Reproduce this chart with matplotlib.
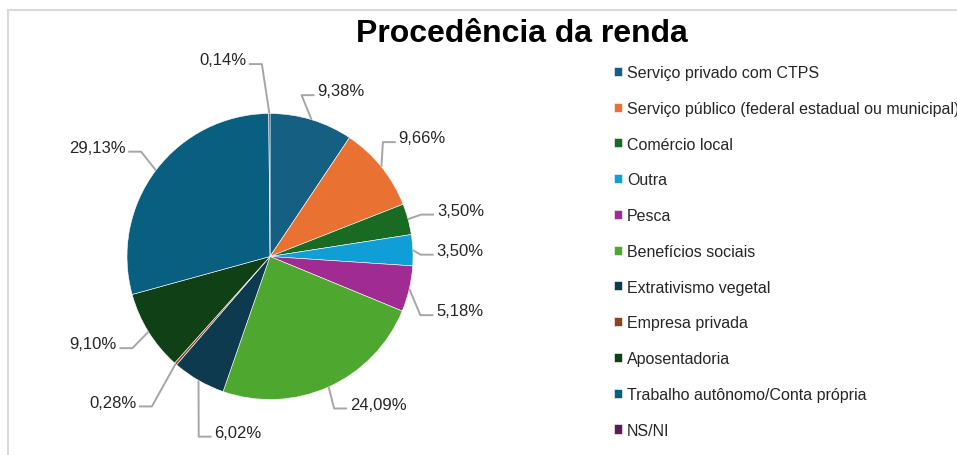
import numpy as np
import matplotlib
matplotlib.use("Agg")
import matplotlib.pyplot as plt
from matplotlib.lines import Line2D

plt.rcParams['font.family'] = ['Liberation Sans', 'DejaVu Sans']

# data
categories = ['Serviço privado com CTPS',
              'Serviço público (federal estadual ou municipal)',
              'Comércio local',
              'Outra',
              'Pesca',
              'Benefícios sociais',
              'Extrativismo vegetal',
              'Empresa privada',
              'Aposentadoria',
              'Trabalho autônomo/Conta própria',
              'NS/NI']
values = [9.38, 9.66, 3.50, 3.50, 5.18, 24.09, 6.02, 0.28, 9.10, 29.13, 0.14]
colors = ['#156082', '#E97132', '#196B24', '#0F9ED5', '#A02B93', '#4EA72E',
          '#0D3A4E', '#8C441E', '#0F4016', '#095F80', '#601A58']

# label placement (angle shift in degrees, radius as fraction of pie radius)
lab_shift = [6.3, 0.9, 1.5, 0.7, 2.9, -12.0, -19.7, 5.9, 5.5, -4.8, -13.3]
lab_rad = [1.26, 1.35, 1.37, 1.33, 1.38, 1.28, 1.25, 1.50, 1.38, 1.43, 1.415]

W, H = 957, 456
R = 143.0
cx, cy = 270.0, 257.5

fig = plt.figure(figsize=(W / 100, H / 100), dpi=100)
ax = fig.add_axes([0, 0, 1, 1])

wedges, _ = ax.pie(values, colors=colors, startangle=90, counterclock=False,
                   radius=1.0, wedgeprops=dict(edgecolor='white', linewidth=0.4))
ax.set_aspect('auto')
ax.set_xlim(-cx / R, (W - cx) / R)
ax.set_ylim(-(H - cy) / R, cy / R)
ax.axis('off')

total = sum(values)
cum = np.cumsum([0] + values[:-1])
texts = []
anchors = []
for i, v in enumerate(values):
    mid = (cum[i] + v / 2) / total * 360.0  # clockwise from top
    a0 = np.deg2rad(mid)
    anchors.append((np.sin(a0), np.cos(a0)))
    a1 = np.deg2rad(mid + lab_shift[i])
    tx, ty = lab_rad[i] * np.sin(a1), lab_rad[i] * np.cos(a1)
    lbl = f'{v:.2f}'.replace('.', ',') + '%'
    t = ax.text(tx, ty, lbl, ha='center', va='center', fontsize=12, color='#262626')
    texts.append(t)

fig.canvas.draw()
inv = ax.transData.inverted()
for t, (px, py) in zip(texts, anchors):
    bb = t.get_window_extent().transformed(inv)
    tcx = (bb.x0 + bb.x1) / 2
    ly = (bb.y0 + bb.y1) / 2 - 0.03
    if px < tcx:
        x2 = bb.x0 - 0.02
        x1 = x2 - 0.09
    else:
        x2 = bb.x1 + 0.02
        x1 = x2 + 0.09
    ax.plot([px, x1, x2], [py, ly, ly], color='#A6A6A6', lw=1.4, solid_capstyle='butt')

fig.legend(wedges, categories, loc='upper left', bbox_to_anchor=(614 / W, 1 - 66 / H),
           frameon=False, fontsize=11.5, handlelength=0.5, handleheight=0.5,
           handletextpad=0.3, labelspacing=1.3, borderpad=0, borderaxespad=0,
           labelcolor='#262626')

fig.text(522 / W, 1 - 34 / H, 'Procedência da renda', ha='center', va='center',
         fontsize=23, fontweight='bold', color='black')

# chart area border (left and top visible)
fig.add_artist(Line2D([8 / W, 8 / W], [0, 1 - 11 / H], color='#D9D9D9', lw=1.5,
                      transform=fig.transFigure))
fig.add_artist(Line2D([8 / W, 1], [1 - 11 / H, 1 - 11 / H], color='#D9D9D9', lw=1.5,
                      transform=fig.transFigure))

fig.savefig('out.png', dpi=100)
